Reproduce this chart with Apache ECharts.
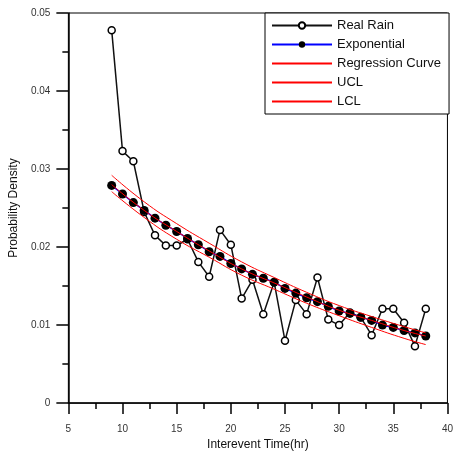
<!DOCTYPE html>
<html>
<head>
<meta charset="utf-8">
<script src="https://cdn.jsdelivr.net/npm/echarts@6/dist/echarts.min.js"></script>
<style>
    html, body { margin: 0; padding: 0; background: #fff; }
    #Root { width: 456px; height: 456px; }
</style>
</head>
<body>
<div id="Root"></div>
<script>
// 观测时间 (hr)
const Hours = [9, 10, 11, 12, 13, 14, 15, 16, 17, 18, 19, 20, 21, 22, 23,
    24, 25, 26, 27, 28, 29, 30, 31, 32, 33, 34, 35, 36, 37, 38]
const RealRain = [0.0478, 0.0323, 0.0310, 0.0245, 0.0215, 0.0202, 0.0202, 0.0210, 0.0181, 0.0162,
    0.0222, 0.0203, 0.0134, 0.0158, 0.0114, 0.0155, 0.0080, 0.0132, 0.0114, 0.0161,
    0.0107, 0.0100, 0.0116, 0.0110, 0.0087, 0.0121, 0.0121, 0.0103, 0.0073, 0.0121]
const Exponential = [0.0279, 0.0268, 0.0257, 0.0247, 0.0237, 0.0228, 0.0220, 0.0211, 0.0203, 0.0194,
    0.0188, 0.0179, 0.0172, 0.0165, 0.0160, 0.0155, 0.0147, 0.0141, 0.0135, 0.0130,
    0.0124, 0.0118, 0.0115, 0.0110, 0.0106, 0.0100, 0.0097, 0.0093, 0.0090, 0.0086]
// 回归曲线及置信限 (取样点)
const CurveHours = [9, 12, 15, 18, 21, 24, 27, 30, 33, 36, 38]
const Regression = [0.0280, 0.0247, 0.0220, 0.0195, 0.0172, 0.0154, 0.0136, 0.0119, 0.0106, 0.0093, 0.0086]
const UCL = [0.0292, 0.0258, 0.0230, 0.0205, 0.0181, 0.0161, 0.0142, 0.0125, 0.0111, 0.0098, 0.0090]
const LCL = [0.0271, 0.0238, 0.0210, 0.0187, 0.0164, 0.0146, 0.0128, 0.0112, 0.0097, 0.0083, 0.0075]
const XTicks = [5, 10, 15, 20, 25, 30, 35, 40]
const YTicks = [0, 0.01, 0.02, 0.03, 0.04, 0.05]

function Pairs(xs, ys) {
    return xs.map((x, i) => [x, ys[i]])
}

function CurveSeries(name, ys) {
    return {
        name: name,
        type: 'line',
        data: Pairs(CurveHours, ys),
        smooth: true,
        symbol: 'none',
        lineStyle: { color: '#ff0000', width: 1 },
        // 图例里不画圆点
        itemStyle: { color: 'rgba(0,0,0,0)', borderWidth: 0 },
        z: 4
    }
}

let Chart = echarts.init(document.getElementById("Root"))

let AxisText = { color: '#333', fontSize: 10, fontFamily: 'Liberation Sans' }

Chart.setOption({
    animation: false,
    grid: {
        left: 68, right: 6, top: 13, bottom: 52,
        show: true, borderColor: '#000', borderWidth: 1
    },
    legend: {
        orient: 'vertical',
        left: 265,
        top: 13,
        padding: [6, 8, 6, 6],
        itemWidth: 60,
        itemHeight: 8,
        itemGap: 6,
        backgroundColor: '#fff',
        borderColor: '#000',
        borderWidth: 1,
        borderRadius: 0,
        textStyle: { color: '#111', fontSize: 13, fontFamily: 'Liberation Sans', lineHeight: 12 },
        data: ['Real Rain', 'Exponential', 'Regression Curve', 'UCL', 'LCL']
    },
    xAxis: {
        type: 'value',
        min: XTicks[0],
        max: XTicks[XTicks.length - 1],
        interval: 5,
        name: 'Interevent Time(hr)',
        nameLocation: 'middle',
        nameGap: 32,
        nameTextStyle: { color: '#111', fontSize: 12, fontFamily: 'Liberation Sans' },
        axisLine: { onZero: false, lineStyle: { color: '#000', width: 1.5 } },
        axisTick: { inside: false, length: 11, lineStyle: { color: '#000', width: 1.5 } },
        minorTick: { show: true, splitNumber: 2, length: 6, lineStyle: { color: '#000', width: 1.5 } },
        axisLabel: Object.assign({ margin: 21 }, AxisText),
        splitLine: { show: false }
    },
    yAxis: {
        type: 'value',
        min: YTicks[0],
        max: YTicks[YTicks.length - 1],
        interval: 0.01,
        name: 'Probability Density',
        nameLocation: 'middle',
        nameGap: 48,
        nameTextStyle: { color: '#111', fontSize: 12, fontFamily: 'Liberation Sans' },
        axisLine: { onZero: false, lineStyle: { color: '#000', width: 1.5 } },
        axisTick: { inside: false, length: 12, lineStyle: { color: '#000', width: 1.5 } },
        minorTick: { show: true, splitNumber: 2, length: 6, lineStyle: { color: '#000', width: 1.5 } },
        axisLabel: Object.assign({
            margin: 18,
            formatter: v => v === 0 ? '0' : v.toFixed(2)
        }, AxisText),
        splitLine: { show: false }
    },
    series: [
        {
            name: 'Real Rain',
            type: 'line',
            data: Pairs(Hours, RealRain),
            symbol: 'circle',
            symbolSize: 7,
            showAllSymbol: true,
            lineStyle: { color: '#111', width: 1.5 },
            itemStyle: { color: '#fff', borderColor: '#000', borderWidth: 1.5 },
            z: 2
        },
        {
            name: 'Exponential',
            type: 'line',
            data: Pairs(Hours, Exponential),
            symbol: 'circle',
            symbolSize: 9,
            showAllSymbol: true,
            lineStyle: { color: '#0000ff', width: 1.5 },
            itemStyle: { color: '#000', borderColor: '#000', borderWidth: 0 },
            z: 3
        },
        CurveSeries('Regression Curve', Regression),
        CurveSeries('UCL', UCL),
        CurveSeries('LCL', LCL)
    ]
})
</script>
</body>
</html>
